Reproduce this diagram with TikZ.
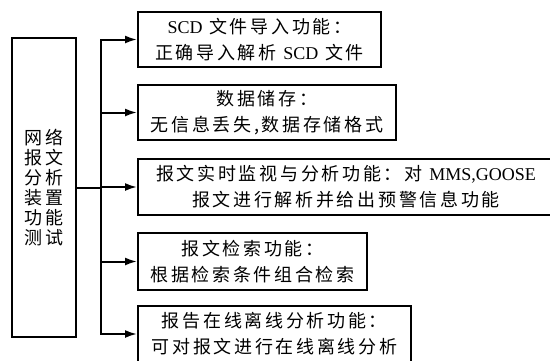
\documentclass[tikz,border=0pt]{standalone}
\usepackage{fontspec}
\setmainfont{Liberation Serif}
\newfontfamily\song[LetterSpace=15]{Noto Sans CJK SC}
\newcommand{\en}[1]{{\rmfamily #1}}
\usepackage{tikz}
\usetikzlibrary{positioning,calc,arrows.meta}

\tikzset{
  funcbox/.style={draw, line width=2pt, anchor=west, minimum height=55pt, inner sep=0pt, align=center, font=\song\fontsize{18}{26}\selectfont},
  feed/.style={line width=2pt, -{Latex[length=12pt,width=8pt]}},
}

\begin{document}
\begin{tikzpicture}[x=1pt,y=-1pt]
        \useasboundingbox (0,0) rectangle (550,360);
        \node[funcbox, minimum width=64pt, minimum height=299pt, font=\song\fontsize{18}{20}\selectfont] (test) at (11,187.5) {网络\\报文\\分析\\装置\\功能\\测试}; % Left title box
        \node[funcbox, minimum width=243pt] (f1) at (137,39.5) {\en{SCD} 文件导入功能：\\正确导入解析 \en{SCD} 文件};
        \node[funcbox, minimum width=258pt] (f2) at (137,112.5) {数据储存：\\无信息丢失,数据存储格式};
        \node[funcbox, minimum width=416pt, minimum height=56pt] (f3) at (137,187) {报文实时监视与分析功能：对 \en{MMS,GOOSE}\\报文进行解析并给出预警信息功能}; % runs past the right edge
        \node[funcbox, minimum width=229pt, minimum height=57pt] (f4) at (137,261.5) {报文检索功能：\\根据检索条件组合检索};
        \node[funcbox, minimum width=273pt, minimum height=56pt] (f5) at (137,334) {报告在线离线分析功能：\\可对报文进行在线离线分析}; % runs past the bottom edge
        \coordinate (bus) at (101,38); % Vertical bus
        \draw[line width=2pt] (test.east) -- (test.east -| bus);
        \draw[line width=2pt, line cap=rect] (bus |- f1.west) -- (bus |- f5.west);
        \foreach \i in {1,...,5}
            \draw[feed] (bus |- f\i.west) -- (f\i.west);
    \end{tikzpicture}
\end{document}
